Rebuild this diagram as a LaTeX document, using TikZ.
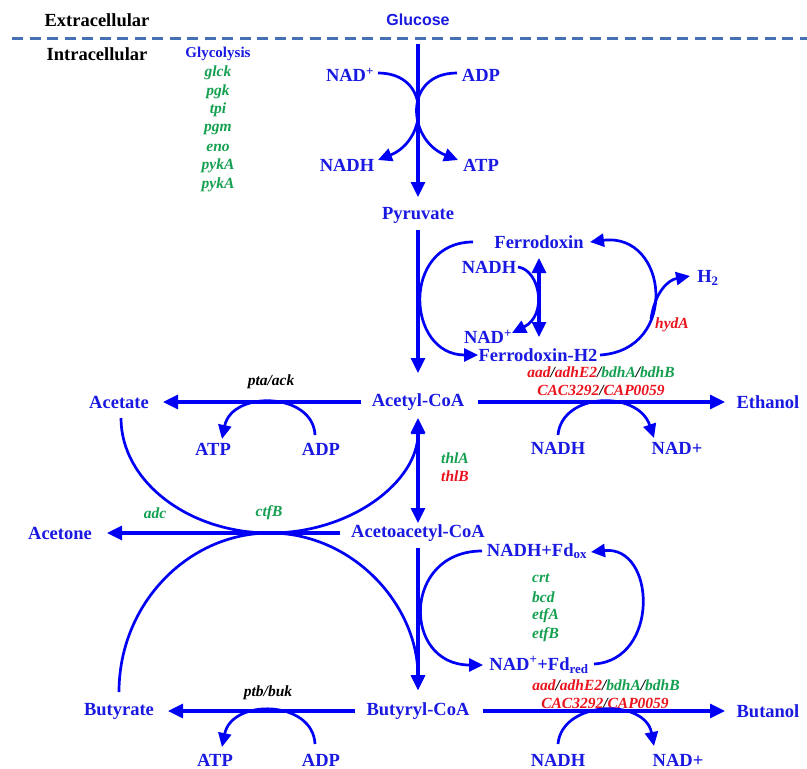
\documentclass[tikz,border=0pt]{standalone}
\usepackage{fontspec}
\setmainfont{Liberation Serif}
\newfontfamily\glucfont{Liberation Sans}
\usetikzlibrary{arrows.meta}
\definecolor{tblue}{RGB}{25,25,225}
\definecolor{lblue}{RGB}{0,0,245}
\definecolor{ggreen}{RGB}{20,160,80}
\definecolor{gred}{RGB}{235,20,30}
\definecolor{dashc}{RGB}{70,112,180}
\begin{document}
\begin{tikzpicture}[x=1pt,y=-1pt,
 lbl/.style={inner sep=0pt, text=tblue, font=\fontsize{18.5}{21}\selectfont\bfseries},
 hdr/.style={inner sep=0pt, text=black, font=\fontsize{18.5}{21}\selectfont\bfseries},
 gene/.style={inner sep=0pt, font=\fontsize{15.5}{18}\selectfont\bfseries\itshape},
 gg/.style={gene, text=ggreen},
 gr/.style={gene, text=gred},
 gb/.style={gene, text=black},
 mainarr/.style={draw=lblue, line width=3.2pt, -{Triangle[length=15pt,width=14pt]}},
 dblarr/.style={draw=lblue, line width=3.2pt, {Triangle[length=15pt,width=14pt]}-{Triangle[length=15pt,width=14pt]}},
 curarr/.style={draw=lblue, line width=2.7pt, -{Triangle[length=14pt,width=13pt]}},
 curline/.style={draw=lblue, line width=2.7pt},
]
\useasboundingbox (0,0) rectangle (807,769);
\fill[white] (0,0) rectangle (807,769);

% membrane
\draw[dashc, line width=3pt, dash pattern=on 11pt off 6.5pt] (12,38) -- (807,38);
\node[hdr] (ext) at (97,20) {Extracellular};
\node[hdr] (intra) at (97,54) {Intracellular};

% glycolysis genes
\node[inner sep=0pt, text=tblue, font=\fontsize{15}{17}\selectfont\bfseries] (glyc) at (218,54) {Glycolysis};
\node[gg] (glck) at (218,73) {glck};
\node[gg] (pgk) at (218,92) {pgk};
\node[gg] (tpi) at (218,110) {tpi};
\node[gg] (pgm) at (218,129) {pgm};
\node[gg] (eno) at (218,148) {eno};
\node[gg] (pyka) at (218,166) {pykA};
\node[gg] (pykb) at (218,185) {pykA};

% top
\node[inner sep=0pt, text=tblue, font=\glucfont\fontsize{16}{18}\selectfont\bfseries] (gluc) at (418,20) {Glucose};
\node[lbl] (nadp1) at (350,75) {NAD\textsuperscript{+}};
\node[lbl] (nadh1) at (347,165) {NADH};
\node[lbl] (adp1) at (481,75) {ADP};
\node[lbl] (atp1) at (481,165) {ATP};
\node[lbl] (pyr) at (418,215) {Pyruvate};

% ferredoxin
\node[lbl] (fdx) at (539,242) {Ferrodoxin};
\node[lbl] (nadh2) at (489,267) {NADH};
\node[lbl] (nadp2) at (488,337) {NAD\textsuperscript{+}};
\node[lbl] (fdh2) at (538,355) {Ferrodoxin-H2};
\node[lbl] (h2) at (708,278) {H\textsubscript{2}};
\node[gr] (hyda) at (672,325) {hydA};

\node[gene] (aad1) at (601,372) {\textcolor{gred}{aad}/\textcolor{gred}{adhE2}/\textcolor{ggreen}{bdhA}/\textcolor{ggreen}{bdhB}};
\node[gene] (cac1) at (601,390) {\textcolor{gred}{CAC3292}/\textcolor{gred}{CAP0059}};

% acetyl-CoA row
\node[lbl] (acoa) at (418,402) {Acetyl-CoA};
\node[lbl] (acet) at (119,402) {Acetate};
\node[gb] (pta) at (271,382) {pta/ack};
\node[lbl] (atp2) at (213,449) {ATP};
\node[lbl] (adp2) at (321,449) {ADP};
\node[lbl] (etoh) at (768,402) {Ethanol};
\node[lbl] (nadh3) at (558,448) {NADH};
\node[lbl] (nadp3) at (677,448) {NAD+};

\node[gg] (thla) at (455,458) {thlA};
\node[gr] (thlb) at (455,476) {thlB};

% acetoacetyl row
\node[gg] (adc) at (155,513) {adc};
\node[gg] (ctfb) at (269,513) {ctfB};
\node[lbl] (aacoa) at (418,533) {Acetoacetyl-CoA};
\node[lbl] (acetone) at (60,533) {Acetone};

% butyryl part
\node[lbl] (fdox) at (537,551) {NADH+Fd\textsubscript{ox}};
\node[gg, anchor=west] (crt) at (532,578) {crt};
\node[gg, anchor=west] (bcd) at (532,597) {bcd};
\node[gg, anchor=west] (etfa) at (532,616) {etfA};
\node[gg, anchor=west] (etfb) at (532,635) {etfB};
\node[lbl] (fdred) at (539,665) {NAD\textsuperscript{+}+Fd\textsubscript{red}};
\node[gene] (aad2) at (606,685) {\textcolor{gred}{aad}/\textcolor{gred}{adhE2}/\textcolor{ggreen}{bdhA}/\textcolor{ggreen}{bdhB}};
\node[gene] (cac2) at (605,703) {\textcolor{gred}{CAC3292}/\textcolor{gred}{CAP0059}};

\node[lbl] (bcoa) at (418,711) {Butyryl-CoA};
\node[lbl] (butyr) at (119,711) {Butyrate};
\node[lbl] (butan) at (768,711) {Butanol};
\node[gb] (ptb) at (268,693) {ptb/buk};
\node[lbl] (atp3) at (215,760) {ATP};
\node[lbl] (adp3) at (321,760) {ADP};
\node[lbl] (nadh4) at (558,760) {NADH};
\node[lbl] (nadp4) at (678,760) {NAD+};

% ---- connectors ----
% glycolysis
\draw[mainarr] ([yshift=-24]gluc.center) -- ([yshift=18]pyr.center);
\draw[curarr] ([xshift=28,yshift=2]nadp1.center) .. controls (432,73) and (428,140) .. ([xshift=31,yshift=5]nadh1.center);
\draw[curarr] ([xshift=-24,yshift=2]adp1.center) .. controls (403,73) and (407,140) .. ([xshift=-23,yshift=5]atp1.center);

% pyruvate -> acetyl-CoA
\draw[mainarr] ([yshift=-15]pyr.center) -- ([yshift=29]acoa.center);
\draw[curarr] ([xshift=-66]fdx.center) .. controls (401,242) and (406,355) .. ([xshift=-60]fdh2.center);
\draw[curarr] ([xshift=29]nadh2.center) .. controls (540,270) and (548,315) .. ([xshift=24,yshift=4]nadp2.center);
\draw[dblarr] ([yshift=-16]fdx.center) -- ([xshift=1,yshift=18]fdh2.center);
\draw[curarr] ([xshift=62]fdh2.center) .. controls (680,350) and (668,232) .. ([xshift=51]fdx.center);
\coordinate (h2b) at (651,319);
\draw[curarr] (h2b) .. controls (655,292) and (668,280) .. ([xshift=-18,yshift=2]h2.center);

% acetyl-CoA branches
\draw[mainarr] ([xshift=-57]acoa.center) -- ([xshift=44]acet.center);
\draw[curarr] ([xshift=-6,yshift=14]adp2.center) .. controls (313,392) and (232,390) .. ([xshift=9,yshift=10]atp2.center);
\draw[mainarr] ([xshift=60]acoa.center) -- ([xshift=-43]etoh.center);
\draw[curarr] ([yshift=13]nadh3.center) .. controls (562,392) and (638,390) .. ([xshift=-23,yshift=10]nadp3.center);
\draw[dblarr] ([yshift=-16]acoa.center) -- ([yshift=10]aacoa.center);

% acetoacetyl-CoA
\draw[mainarr] ([xshift=-78]aacoa.center) -- ([xshift=47]acetone.center);
\draw[curarr] ([xshift=2,yshift=-16]acet.center) .. controls (121,481) and (188,533) .. (270,533)
   .. controls (352,533) and (418,481) .. ([yshift=-18]acoa.center);
\draw[curarr] ([yshift=19]butyr.center) .. controls (119,604) and (188,533) .. (270,533)
   .. controls (352,533) and (418,604) .. ([yshift=21]bcoa.center);
\draw[mainarr] ([yshift=-15]aacoa.center) -- ([yshift=21]bcoa.center);
\draw[curarr] ([xshift=-55]fdox.center) .. controls (402,551) and (402,665) .. ([xshift=-56]fdred.center);
\draw[curarr] ([xshift=55,yshift=1]fdred.center) .. controls (660,660) and (656,545) .. ([xshift=54,yshift=-1]fdox.center);

% butyryl-CoA branches
\draw[mainarr] ([xshift=-63]bcoa.center) -- ([xshift=49]butyr.center);
\draw[curarr] ([xshift=-6,yshift=16]adp3.center) .. controls (313,700) and (232,698) .. ([xshift=7,yshift=13]atp3.center);
\draw[mainarr] ([xshift=65]bcoa.center) -- ([xshift=-43]butan.center);
\draw[curarr] ([yshift=16]nadh4.center) .. controls (562,700) and (645,698) .. ([xshift=-24,yshift=14]nadp4.center);
\end{tikzpicture}
\end{document}
